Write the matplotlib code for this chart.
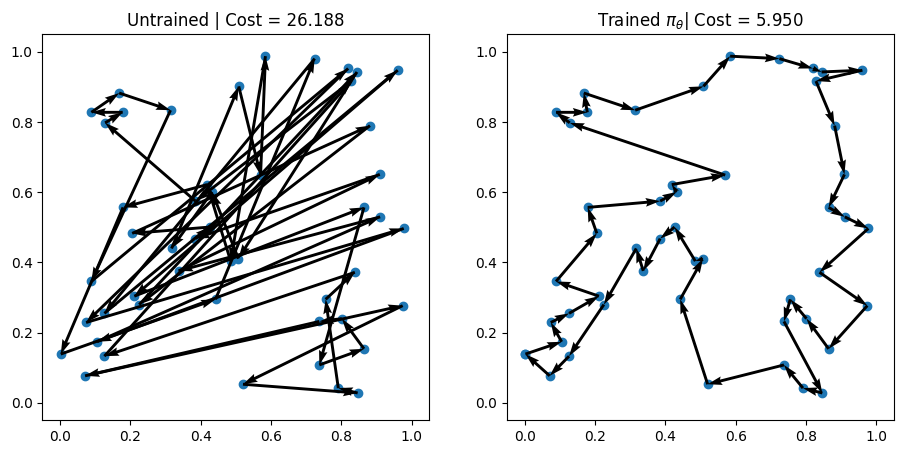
import numpy as np
import matplotlib
matplotlib.use("Agg")
import matplotlib.pyplot as plt

# Node coordinates, node k is element k-1
x = [0.002, 0.105, 0.074, 0.126, 0.211, 0.089, 0.205, 0.179, 0.385, 0.432,
     0.418, 0.570, 0.128, 0.089, 0.178, 0.168, 0.314, 0.508, 0.584, 0.724,
     0.819, 0.844, 0.960, 0.828, 0.881, 0.909, 0.864, 0.910, 0.977, 0.838,
     0.974, 0.864, 0.801, 0.755, 0.737, 0.846, 0.791, 0.737, 0.520, 0.442,
     0.507, 0.485, 0.426, 0.385, 0.337, 0.317, 0.225, 0.126, 0.071]
y = [0.139, 0.174, 0.229, 0.255, 0.304, 0.346, 0.483, 0.557, 0.575, 0.601,
     0.622, 0.649, 0.798, 0.828, 0.828, 0.883, 0.834, 0.902, 0.988, 0.981,
     0.953, 0.943, 0.948, 0.917, 0.790, 0.651, 0.557, 0.530, 0.497, 0.372,
     0.277, 0.154, 0.240, 0.295, 0.232, 0.028, 0.042, 0.108, 0.053, 0.295,
     0.411, 0.404, 0.501, 0.468, 0.376, 0.440, 0.280, 0.133, 0.077]

# Visiting orders (1-based node numbers)
untrained_tour = [9, 13, 15, 14, 16, 17, 6, 21, 3, 29, 2, 28, 45, 26, 44, 43,
                  7, 25, 47, 22, 41, 10, 46, 18, 12, 19, 42, 11, 8, 1, 40, 20,
                  4, 23, 5, 27, 38, 32, 33, 35, 49, 31, 39, 36, 37, 34, 30, 48,
                  24]
trained_tour = list(range(1, 50))

titles = ["Untrained | Cost = 26.188", r"Trained $\pi_\theta$| Cost = 5.950"]

xs_all = np.array(x)
ys_all = np.array(y)

fig = plt.figure(figsize=(9.04, 4.53), dpi=100)
ax1 = fig.add_axes([0.047, 0.072, 0.428, 0.852])
ax2 = fig.add_axes([0.561, 0.072, 0.428, 0.852])

for ax, tour, title in zip([ax1, ax2], [untrained_tour, trained_tour], titles):
    idx = np.array(tour) - 1
    idx = np.append(idx, idx[0])
    px = xs_all[idx]
    py = ys_all[idx]
    ax.scatter(px, py, color="tab:blue")
    dx = np.diff(px)
    dy = np.diff(py)
    ax.quiver(px[:-1], py[:-1], dx, dy, scale_units="xy", angles="xy",
              scale=1, color="k")
    ax.set_xlim(-0.05, 1.05)
    ax.set_ylim(-0.05, 1.05)
    ax.set_title(title)

fig.savefig("out.png", dpi=100)
